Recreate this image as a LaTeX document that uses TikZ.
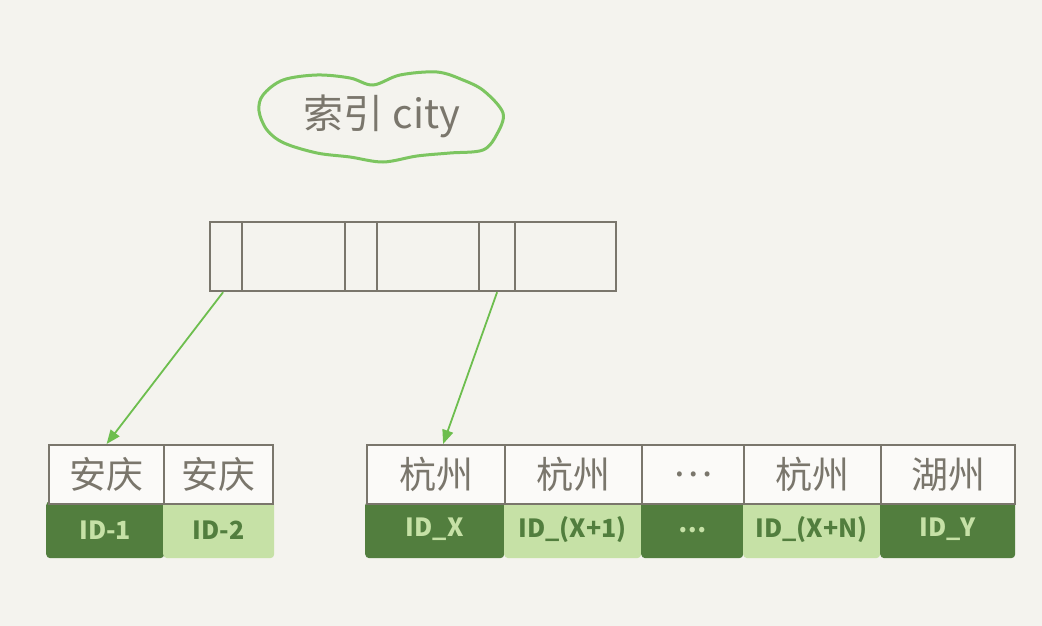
\documentclass[tikz,border=0pt]{standalone}
\usepackage{fontspec}
\newfontfamily\cjk{Noto Sans CJK SC}
\usetikzlibrary{arrows.meta}
\definecolor{bg}{HTML}{F4F3EE}
\definecolor{gry}{HTML}{7A766C}
\definecolor{dkg}{HTML}{527E3E}
\definecolor{ltg}{HTML}{C6E1A6}
\definecolor{arrc}{HTML}{6DBE4E}
\begin{document}
\begin{tikzpicture}[x=1pt,y=-1pt,
  idx/.style={draw=gry,line width=2.2pt,minimum height=69pt,inner sep=0pt,anchor=north west},
  hdr/.style={draw=gry,fill=white!60!bg,line width=2.2pt,minimum height=59pt,inner sep=0pt,anchor=north west,
    text=gry,font=\cjk\fontsize{37}{37}\selectfont},
  dk/.style={fill=dkg,minimum height=57pt,inner sep=0pt,anchor=north west,rounded corners=4pt,
    text=ltg,font=\cjk\bfseries\fontsize{25}{25}\selectfont},
  lt/.style={fill=ltg,minimum height=57pt,inner sep=0pt,anchor=north west,rounded corners=4pt,
    text=dkg,font=\cjk\bfseries\fontsize{25}{25}\selectfont},
  link/.style={draw=arrc,line width=1.8pt,-{Triangle[length=14pt,width=11pt]}}]
\fill[bg] (0,0) rectangle (1042,626);
\useasboundingbox (0,0) rectangle (1042,626);

% cloud
\draw[arrc!90!white,line width=3pt,fill=bg] plot[smooth cycle,tension=0.55] coordinates {
 (263,95) (283,80) (317,75) (350,78) (373,85) (400,75) (437,72) (463,80) (484,91)
 (503,113) (497,134) (483,150) (450,153) (417,156) (383,162) (350,157) (317,153)
 (284,143) (267,130) (259,111)};
\node[text=gry,font=\cjk\fontsize{40}{40}\selectfont] (cloud) at (382,116) {索引 city};

% index node
\node[idx,minimum width=32pt] (i1) at (209,221) {};
\node[idx,minimum width=103pt] (i2) at (241,221) {};
\node[idx,minimum width=32pt] (i3) at (344,221) {};
\node[idx,minimum width=102pt] (i4) at (376,221) {};
\node[idx,minimum width=36pt] (i5) at (478,221) {};
\node[idx,minimum width=101pt] (i6) at (514,221) {};

% left leaf
\node[dk,minimum width=118pt] (lb1) at (46,501) {ID-1};
\node[lt,minimum width=111pt] (lb2) at (163,501) {ID-2};
\node[hdr,minimum width=115pt] (la1) at (48,444) {安庆};
\node[hdr,minimum width=109pt] (la2) at (163,444) {安庆};

% right leaf
\node[dk,minimum width=139pt] (rb1) at (365,501) {ID\_X};
\node[lt,minimum width=137pt] (rb2) at (504,501) {ID\_(X+1)};
\node[dk,minimum width=102pt] (rb3) at (641,501) {…};
\node[lt,minimum width=137pt] (rb4) at (743,501) {ID\_(X+N)};
\node[dk,minimum width=135pt] (rb5) at (880,501) {ID\_Y};
\node[hdr,minimum width=138pt] (ra1) at (366,444) {杭州};
\node[hdr,minimum width=137pt] (ra2) at (504,444) {杭州};
\node[hdr,minimum width=102pt] (ra3) at (641,444) {…};
\node[hdr,minimum width=137pt] (ra4) at (743,444) {杭州};
\node[hdr,minimum width=134pt] (ra5) at (880,444) {湖州};

% links
\draw[link] ([xshift=-3pt]i1.south) -- ([xshift=0pt]la1.north);
\draw[link] (i5.south) -- ([xshift=7pt]ra1.north);
\end{tikzpicture}
\end{document}
